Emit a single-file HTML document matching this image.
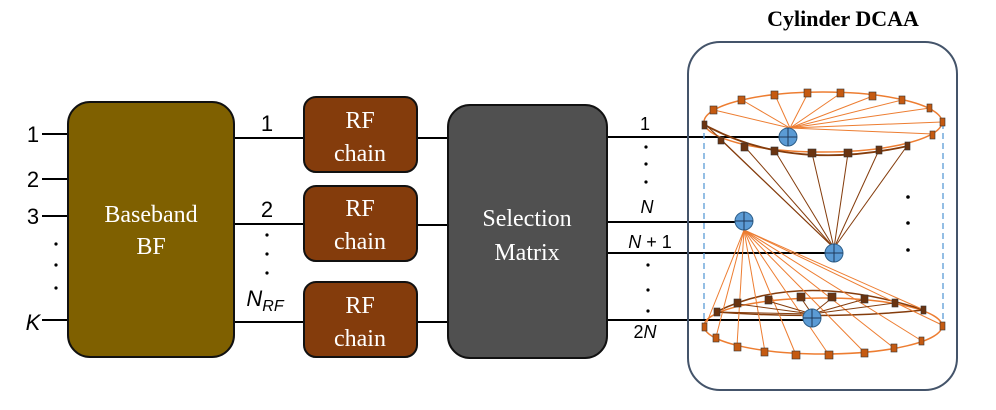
<!DOCTYPE html>
<html><head><meta charset="utf-8"><style>body{margin:0;background:#fff}svg{display:block}</style></head><body>
<svg width="996" height="410" viewBox="0 0 996 410" xmlns="http://www.w3.org/2000/svg" font-family="Liberation Serif, serif">
<g stroke="#000" stroke-width="2">
<line x1="42" y1="134" x2="68" y2="134"/><line x1="42" y1="179" x2="68" y2="179"/><line x1="42" y1="216" x2="68" y2="216"/><line x1="42" y1="320" x2="68" y2="320"/>
<line x1="234" y1="138" x2="304" y2="138"/><line x1="234" y1="224" x2="304" y2="224"/><line x1="234" y1="322" x2="304" y2="322"/>
<line x1="417" y1="138" x2="448" y2="138"/><line x1="417" y1="225" x2="448" y2="225"/><line x1="417" y1="322" x2="448" y2="322"/>
<line x1="607" y1="137" x2="788" y2="137"/><line x1="607" y1="222" x2="744" y2="222"/><line x1="607" y1="253" x2="834" y2="253"/><line x1="607" y1="320" x2="812" y2="320"/>
</g>
<rect x="68" y="102" width="166" height="255" rx="22" fill="#7f6000" stroke="#111" stroke-width="2"/>
<rect x="304" y="97" width="113" height="75" rx="12" fill="#843c0c" stroke="#111" stroke-width="2"/>
<rect x="304" y="186" width="113" height="75" rx="12" fill="#843c0c" stroke="#111" stroke-width="2"/>
<rect x="304" y="282" width="113" height="75" rx="12" fill="#843c0c" stroke="#111" stroke-width="2"/>
<rect x="448" y="105" width="159" height="253" rx="22" fill="#505050" stroke="#111" stroke-width="2"/>
<g fill="#fff" font-size="24" text-anchor="middle">
<text x="151" y="222">Baseband</text><text x="151" y="254">BF</text>
<text x="360" y="128">RF</text><text x="360" y="161">chain</text>
<text x="360" y="216">RF</text><text x="360" y="249">chain</text>
<text x="360" y="313">RF</text><text x="360" y="346">chain</text>
<text x="527" y="226">Selection</text><text x="527" y="260">Matrix</text>
</g>
<g font-family="Liberation Sans, sans-serif" font-size="22" fill="#000" text-anchor="middle">
<text x="33" y="142">1</text><text x="33" y="187">2</text><text x="33" y="224">3</text><text x="33" y="330" font-style="italic">K</text>
<text x="267" y="131">1</text><text x="267" y="217">2</text>
<text x="265" y="306" font-style="italic">N<tspan font-size="16" dy="5">RF</tspan></text>
</g>
<g font-family="Liberation Sans, sans-serif" font-size="18" fill="#000" text-anchor="middle">
<text x="645" y="130">1</text><text x="647" y="213" font-style="italic">N</text>
<text x="650" y="248"><tspan font-style="italic">N</tspan> + 1</text>
<text x="645" y="338"><tspan>2</tspan><tspan font-style="italic">N</tspan></text>
</g>
<g fill="#000">
<circle cx="56" cy="244" r="1.6"/><circle cx="56" cy="265" r="1.6"/><circle cx="56" cy="288" r="1.6"/>
<circle cx="267" cy="235" r="1.6"/><circle cx="267" cy="254" r="1.6"/><circle cx="267" cy="273" r="1.6"/>
<circle cx="646" cy="147" r="1.6"/><circle cx="646" cy="164" r="1.6"/><circle cx="646" cy="182" r="1.6"/>
<circle cx="648" cy="265" r="1.6"/><circle cx="648" cy="290" r="1.6"/><circle cx="648" cy="311" r="1.6"/>
<circle cx="908" cy="197" r="1.8"/><circle cx="908" cy="223" r="1.8"/><circle cx="908" cy="250" r="1.8"/>
</g>
<text x="843" y="26" font-size="22" font-weight="bold" text-anchor="middle">Cylinder DCAA</text>
<rect x="688" y="42" width="269" height="348" rx="32" fill="none" stroke="#44546a" stroke-width="2"/>
<g stroke="#5b9bd5" stroke-width="1.3" stroke-dasharray="6,4" fill="none">
<line x1="704" y1="123" x2="704" y2="326"/><line x1="943" y1="123" x2="943" y2="326"/>
</g>
<ellipse cx="823" cy="122" rx="119" ry="30" fill="none" stroke="#ed7d31" stroke-width="1.5"/>
<path d="M705,125 Q790,172 908,146" fill="none" stroke="#843c0c" stroke-width="1.8"/>
<g stroke="#ed7d31" stroke-width="1">
<line x1="790" y1="128" x2="714" y2="110"/><line x1="790" y1="128" x2="742" y2="100"/><line x1="790" y1="128" x2="775" y2="95"/><line x1="790" y1="128" x2="808" y2="93"/><line x1="790" y1="128" x2="841" y2="93"/><line x1="790" y1="128" x2="873" y2="96"/><line x1="790" y1="128" x2="902" y2="100"/><line x1="790" y1="128" x2="930" y2="108"/><line x1="790" y1="128" x2="942" y2="122"/><line x1="790" y1="128" x2="933" y2="134"/>
</g>
<g stroke="#843c0c" stroke-width="1">
<line x1="834" y1="248" x2="706" y2="125"/><line x1="834" y1="248" x2="721" y2="140"/><line x1="834" y1="248" x2="745" y2="147"/><line x1="834" y1="248" x2="775" y2="151"/><line x1="834" y1="248" x2="812" y2="153"/><line x1="834" y1="248" x2="848" y2="153"/><line x1="834" y1="248" x2="879" y2="150"/><line x1="834" y1="248" x2="907" y2="146"/>
</g>
<g fill="#c55a11" stroke="#333" stroke-width="0.6">
<rect x="710" y="106" width="7" height="8"/><rect x="738" y="96" width="7" height="8"/><rect x="771" y="91" width="7" height="8"/><rect x="804" y="89" width="7" height="8"/><rect x="837" y="89" width="7" height="8"/><rect x="869" y="92" width="7" height="8"/><rect x="899" y="96" width="6" height="8"/><rect x="927" y="104" width="5" height="8"/><rect x="940" y="118" width="5" height="8"/><rect x="930" y="131" width="5" height="8"/>
</g>
<g fill="#6b3410" stroke="#333" stroke-width="0.6">
<rect x="702" y="121" width="5" height="8"/><rect x="718" y="137" width="6" height="7"/><rect x="741" y="143" width="7" height="8"/><rect x="771" y="147" width="7" height="8"/><rect x="808" y="149" width="8" height="8"/><rect x="844" y="149" width="8" height="8"/><rect x="876" y="146" width="6" height="8"/><rect x="905" y="142" width="5" height="8"/>
</g>
<ellipse cx="823" cy="326" rx="119" ry="28" fill="none" stroke="#ed7d31" stroke-width="1.5"/>
<path d="M716,312 Q800,270 924,310 M716,312 Q830,320 924,310" fill="none" stroke="#843c0c" stroke-width="1.5"/>
<g stroke="#ed7d31" stroke-width="1">
<line x1="744" y1="230" x2="705" y2="327"/><line x1="744" y1="230" x2="716" y2="337"/><line x1="744" y1="230" x2="737" y2="346"/><line x1="744" y1="230" x2="765" y2="352"/><line x1="744" y1="230" x2="796" y2="355"/><line x1="744" y1="230" x2="829" y2="355"/><line x1="744" y1="230" x2="865" y2="353"/><line x1="744" y1="230" x2="894" y2="348"/><line x1="744" y1="230" x2="922" y2="341"/><line x1="744" y1="230" x2="942" y2="325"/><line x1="744" y1="230" x2="924" y2="310"/>
</g>
<g stroke="#843c0c" stroke-width="1">
<line x1="812" y1="314" x2="717" y2="312"/><line x1="812" y1="314" x2="738" y2="304"/><line x1="812" y1="314" x2="768" y2="301"/><line x1="812" y1="314" x2="801" y2="298"/><line x1="812" y1="314" x2="832" y2="298"/><line x1="812" y1="314" x2="865" y2="299"/><line x1="812" y1="314" x2="895" y2="303"/>
</g>
<g fill="#6b3410" stroke="#333" stroke-width="0.6">
<rect x="714" y="308" width="6" height="8"/><rect x="734" y="299" width="7" height="8"/><rect x="765" y="296" width="7" height="8"/><rect x="797" y="293" width="8" height="8"/><rect x="828" y="293" width="8" height="8"/><rect x="861" y="295" width="7" height="8"/><rect x="892" y="299" width="6" height="8"/><rect x="921" y="306" width="5" height="8"/>
</g>
<g fill="#c55a11" stroke="#333" stroke-width="0.6">
<rect x="702" y="323" width="5" height="8"/><rect x="713" y="334" width="6" height="8"/><rect x="734" y="343" width="7" height="8"/><rect x="761" y="348" width="7" height="8"/><rect x="792" y="351" width="8" height="8"/><rect x="825" y="351" width="8" height="8"/><rect x="861" y="349" width="7" height="8"/><rect x="891" y="344" width="6" height="8"/><rect x="919" y="337" width="5" height="8"/><rect x="940" y="322" width="5" height="8"/>
</g>
<g fill="#5b9bd5" stroke="#2e5f8a" stroke-width="1">
<circle cx="788" cy="137" r="9"/><circle cx="744" cy="221" r="9"/><circle cx="834" cy="253" r="9"/><circle cx="812" cy="318" r="9"/>
</g>
<g stroke="#1f3a5a" stroke-width="1">
<path d="M779,137h18M788,128v18"/><path d="M735,221h18M744,212v18"/><path d="M825,253h18M834,244v18"/><path d="M803,318h18M812,309v18"/>
</g>
</svg>
</body></html>
